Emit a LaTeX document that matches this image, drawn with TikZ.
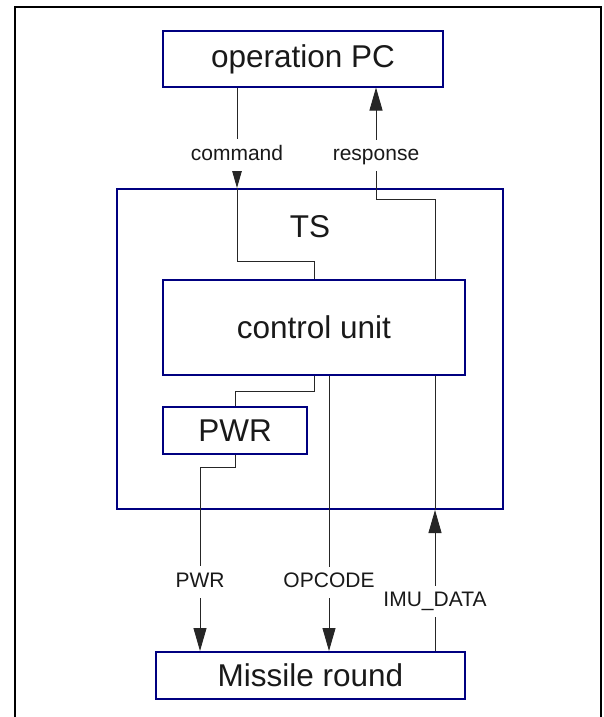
\documentclass[tikz,border=0pt]{standalone}
\usepackage{fontspec}
\setmainfont{Liberation Sans}
\usetikzlibrary{arrows.meta}
\definecolor{boxblue}{RGB}{0,0,128}
\definecolor{inkgray}{RGB}{25,25,25}
\newcommand{\bigfont}{\fontsize{31.5}{36}\selectfont}
\newcommand{\smallfont}{\fontsize{21}{25}\selectfont}

\begin{document}
\begin{tikzpicture}[x=1pt,y=-1pt,
  block/.style={draw=boxblue, line width=2pt, inner sep=0pt, text=inkgray, font=\bigfont},
  wire/.style={line width=0.9pt, draw=black!85},
  sigarrow/.style={wire, -{Triangle[length=23pt,width=13pt]}},
  tag/.style={fill=white, inner xsep=7pt, inner ysep=6pt, text height=15pt, text depth=4.5pt,
    text=inkgray, font=\smallfont}]
\useasboundingbox (0,0) rectangle (603,717);
% frame, open at the bottom
\draw[line width=2.6pt] (15,717) |- (601,7) -- (601,717);

% blocks
\node[block, minimum width=280pt, minimum height=55pt] (pc) at (303,59) {operation PC};
\node[block, minimum width=386pt, minimum height=320pt] (ts) at (310,349) {};
\node[text=inkgray, font=\bigfont] (tsname) at (310,227) {TS};
\node[block, minimum width=302pt, minimum height=95pt] (cu) at (314,327.5) {control unit};
\node[block, minimum width=144pt, minimum height=47pt] (pwr) at (235,430.5) {PWR};
\node[block, minimum width=309pt, minimum height=47pt] (mr) at (310.5,675.5) {Missile round};

% bends and lanes
\coordinate (cmd) at (237,261);
\coordinate (rsp) at (435,199);
\coordinate (rspbend) at (376,199);
\coordinate (cupwr) at (314,391);
\coordinate (pwrout) at (235,467);
\coordinate (pwrlane) at (200,467);
\coordinate (opc) at (329,0);
\coordinate (imu) at (435,0);

% operation PC <-> control unit
\draw[sigarrow] (pc.south -| cmd) to node[tag, pos=0.67]{command} (ts.north -| cmd);
\draw[wire] (ts.north -| cmd) -- (cmd) -| (cu.north);
\draw[sigarrow] (cu.north -| rsp) -- (rsp) -- (rspbend)
  -- node[tag, pos=0.39]{response} (pc.south -| rspbend);

% control unit -> PWR
\draw[wire] (cu.south) -- (cupwr) -| (pwr.north);

% TS <-> Missile round
\draw[sigarrow] (pwr.south) -- (pwrout) -- (pwrlane)
  -- node[tag, pos=0.626]{PWR} (mr.north -| pwrlane);
\draw[sigarrow] (cu.south -| opc) to node[tag, pos=0.75]{OPCODE} (mr.north -| opc);
\draw[sigarrow] (mr.north -| imu) to node[tag, pos=0.35]{IMU\_DATA} (ts.south -| imu);
\draw[wire] (ts.south -| imu) -- (cu.south -| imu);
\end{tikzpicture}
\end{document}
